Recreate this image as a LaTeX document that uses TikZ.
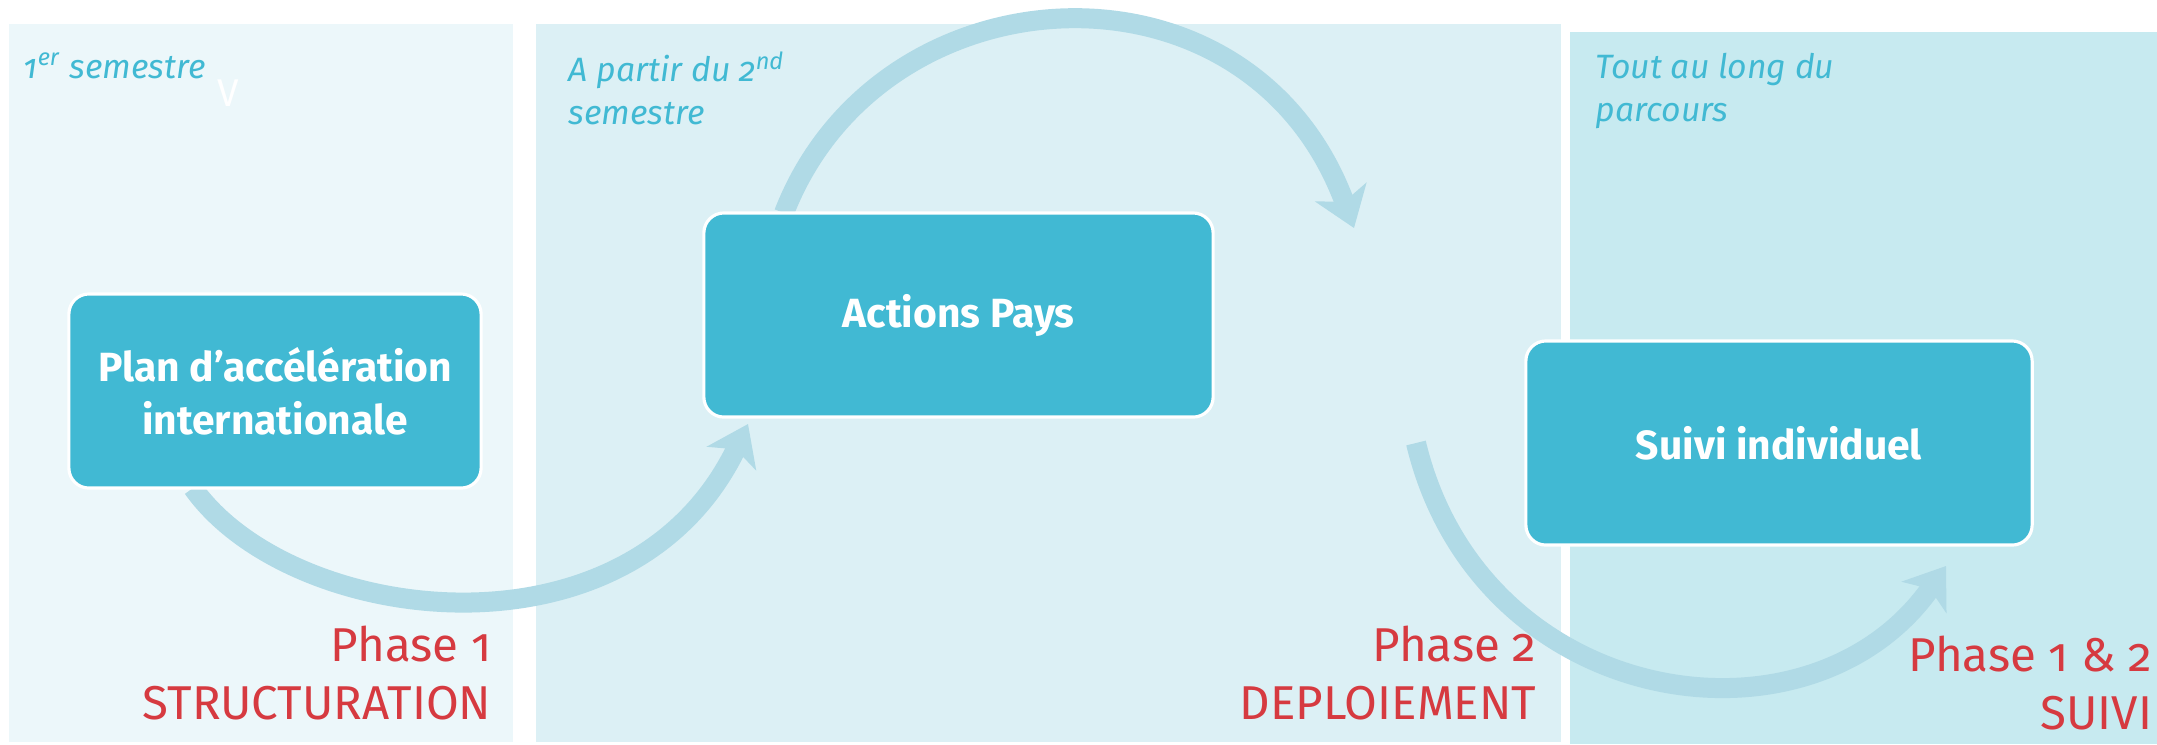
\documentclass[tikz,border=0pt]{standalone}
\usepackage{fontspec}
\setmainfont{Fira Sans}[Numbers=OldStyle]
\usetikzlibrary{arrows.meta}

\definecolor{paneone}{RGB}{236,247,250}
\definecolor{panetwo}{RGB}{220,240,245}
\definecolor{panethree}{RGB}{199,234,240}
\definecolor{boxblue}{RGB}{65,185,211}
\definecolor{arrowblue}{RGB}{176,218,230}
\definecolor{phasered}{RGB}{214,58,64}

\begin{document}
\begin{tikzpicture}[x=0.01cm,y=-0.01cm,
  stagebox/.style={rectangle,rounded corners=0.2cm,fill=boxblue,draw=white,line width=0.9pt,
    text=white,align=center,font=\bfseries\fontsize{11.6}{15}\selectfont},
  flow/.style={draw=arrowblue,line width=0.2cm,
    -{Stealth[length=0.38cm,width=0.54cm,inset=0.1cm]}},
  when/.style={text=boxblue,align=left,inner sep=0pt,font=\itshape\fontsize{9.6}{12}\selectfont},
  phase/.style={text=phasered,align=right,inner sep=0pt,font=\fontsize{13.5}{16.5}\selectfont}]
\useasboundingbox (0,0) rectangle (2157,744);

\fill[paneone] (9,24) rectangle (513,742);
\fill[panetwo] (536,24) rectangle (1561,742);
\fill[panethree] (1570,32) rectangle (2157,744);

\coordinate (planout) at (193,488);
\coordinate (actionsin) at (748,424);
\coordinate (actionsout) at (784,213);
\coordinate (turnin) at (1354,228);
\coordinate (turnout) at (1416,443);
\coordinate (suiviin) at (1946,566);

\draw[flow] (planout) .. controls (290,625) and (630,670) .. (actionsin);
\draw[flow] (actionsout) .. controls (880,-35) and (1250,-55) .. (turnin);
\draw[flow] (turnout) .. controls (1480,710) and (1810,760) .. (suiviin);

\node (plan) at (275,391) [stagebox,minimum width=4.12cm,minimum height=1.94cm]
  {Plan d’accélération\\internationale};
\node (actions) at (958.5,315) [stagebox,minimum width=5.09cm,minimum height=2.04cm] {Actions Pays};
\node (suivi) at (1779,443) [stagebox,minimum width=5.06cm,minimum height=2.04cm] {Suivi individuel};

\node (firstsem) at (23,78) [when,anchor=base west] {1\textsuperscript{er} semestre};
\node (mark) at (217,106) [anchor=base west,inner sep=0pt,text=white,font=\fontsize{11}{13}\selectfont] {V};
\node (secondsem) at (568,124) [when,anchor=base west] {A partir du 2\textsuperscript{nd}\\semestre};
\node (alongpath) at (1595,121) [when,anchor=base west] {Tout au long du\\parcours};

\node (phaseone) at (492,719) [phase,anchor=base east] {Phase 1\\STRUCTURATION};
\node (phasetwo) at (1537,719) [phase,anchor=base east] {Phase 2\\DEPLOIEMENT};
\node (phaseboth) at (2153,729) [phase,anchor=base east] {Phase 1 \& 2\\SUIVI};
\end{tikzpicture}
\end{document}
